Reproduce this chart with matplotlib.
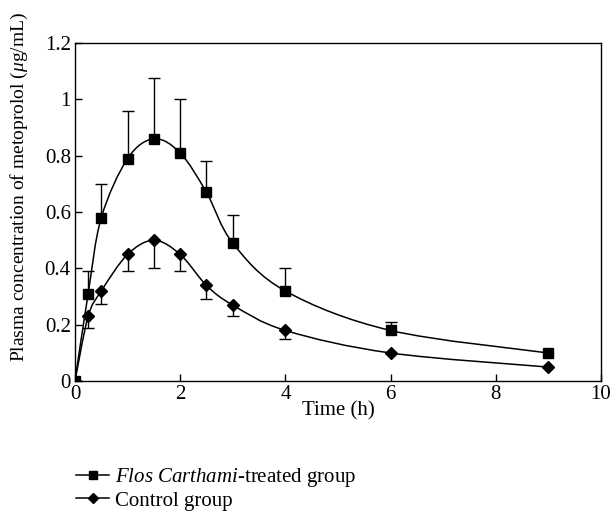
import matplotlib.pyplot as plt
import numpy as np
from matplotlib.path import Path
from matplotlib.patches import PathPatch
from matplotlib.lines import Line2D

plt.rcParams['font.family'] = ['Liberation Serif', 'DejaVu Serif']
plt.rcParams['mathtext.fontset'] = 'custom'
plt.rcParams['mathtext.rm'] = 'Liberation Serif'
plt.rcParams['mathtext.it'] = 'Liberation Serif:italic'

time = [0, 0.25, 0.5, 1, 1.5, 2, 2.5, 3, 4, 6, 9]
treated = [0, 0.31, 0.58, 0.79, 0.86, 0.81, 0.67, 0.49, 0.32, 0.18, 0.10]
treated_err = [0, 0.08, 0.12, 0.17, 0.215, 0.19, 0.11, 0.10, 0.08, 0.03, 0.0]
control = [0, 0.23, 0.32, 0.45, 0.50, 0.45, 0.34, 0.27, 0.18, 0.10, 0.05]
control_err = [0, 0.04, 0.045, 0.06, 0.10, 0.06, 0.05, 0.04, 0.03, 0.0, 0.0]


def smooth_path(x, y):
    # Catmull-Rom style bezier, like Excel's smoothed line
    pts = np.column_stack([x, y]).astype(float)
    n = len(pts)
    verts = [pts[0]]
    codes = [Path.MOVETO]
    for i in range(n - 1):
        p0 = pts[max(i - 1, 0)]
        p1 = pts[i]
        p2 = pts[i + 1]
        p3 = pts[min(i + 2, n - 1)]
        c1 = p1 + (p2 - p0) / 6
        c2 = p2 - (p3 - p1) / 6
        verts += [c1, c2, p2]
        codes += [Path.CURVE4] * 3
    return Path(verts, codes)


def one_sided_bars(ax, x, y, err, sign):
    x = np.array(x)
    y = np.array(y)
    err = np.array(err)
    keep = err > 0
    ends = y[keep] + sign * err[keep]
    ax.vlines(x[keep], y[keep], ends, color='black', lw=1)
    ax.plot(x[keep], ends, ls='none', marker='_', ms=8, mew=1, color='black')


fig = plt.figure(figsize=(6.12, 5.13), dpi=100)
ax = fig.add_axes([0.1225, 0.257, 0.8595, 0.659])

ax.add_patch(PathPatch(smooth_path(time, treated), fill=False, lw=1.1, color='black'))
ax.add_patch(PathPatch(smooth_path(time, control), fill=False, lw=1.1, color='black'))

one_sided_bars(ax, time, treated, treated_err, 1)
one_sided_bars(ax, time, control, control_err, -1)

ax.plot(time, treated, ls='none', marker='s', ms=6.5, color='black')
ax.plot(time, control, ls='none', marker='D', ms=6.5, color='black')

ax.set_xlim(0, 10)
ax.set_ylim(0, 1.2)
ax.set_xticks([0, 2, 4, 6, 8, 10])
ax.set_yticks([0, 0.2, 0.4, 0.6, 0.8, 1.0, 1.2])
ax.set_yticklabels(['0', '0.2', '0.4', '0.6', '0.8', '1', '1.2'])
ax.tick_params(direction='in', length=5, labelsize=15, width=1, pad=3)
for s in ax.spines.values():
    s.set_linewidth(1)

ax.set_xlabel('Time (h)', fontsize=15, labelpad=-2)
ax.set_ylabel(r'Plasma concentration of metoprolol ($\mathit{\mu}$g/mL)', fontsize=14)
ax.yaxis.set_label_coords(-0.086, 0.575)

handles = [
    Line2D([], [], color='black', marker='s', ms=5.5, lw=1.1),
    Line2D([], [], color='black', marker='D', ms=5.5, lw=1.1),
]
labels = [r'$\mathit{Flos\ Carthami}$-treated group', 'Control group']
fig.legend(handles, labels, loc='upper left', bbox_to_anchor=(0.124, 0.0915), frameon=False,
           fontsize=15, handlelength=1.6, handletextpad=0.3, labelspacing=0.1, borderpad=0,
           borderaxespad=0)

fig.savefig('out.png', dpi=100)
